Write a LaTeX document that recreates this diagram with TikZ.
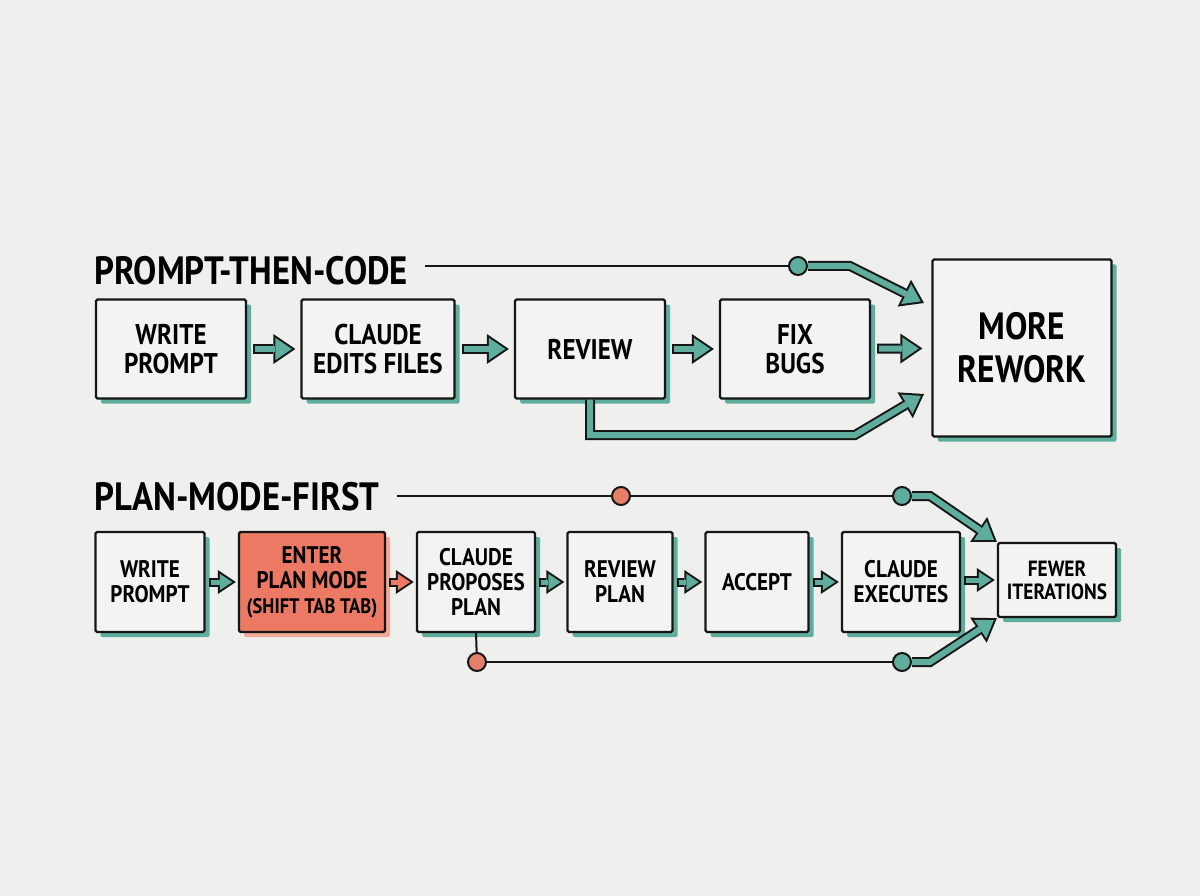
\documentclass[tikz,border=0pt]{standalone}
\usepackage{fontspec}
\setmainfont{PT Sans}[FakeStretch=0.88]
\usetikzlibrary{arrows.meta,shadows}

\definecolor{bg}{RGB}{239,239,237}
\definecolor{paper}{RGB}{243,243,241}
\definecolor{ink}{RGB}{22,22,22}
\definecolor{tealc}{RGB}{94,173,157}
\definecolor{salmon}{RGB}{236,121,99}
\definecolor{salshade}{RGB}{238,170,150}
\definecolor{dotred}{RGB}{229,127,104}

\tikzset{
  box/.style={draw=ink, line width=2.3pt, fill=paper, rounded corners=1.5pt,
    align=center, inner sep=0pt,
    drop shadow={shadow xshift=5pt, shadow yshift=-5pt, fill=#1, opacity=1}},
  box/.default=tealc,
  title/.style={font=\fontsize{39.5}{42}\selectfont\bfseries, inner sep=0pt, anchor=base west},
  big/.style={font=\fontsize{28.5}{29}\selectfont\bfseries},
  huge/.style={font=\fontsize{38}{43}\selectfont\bfseries},
  mid/.style={font=\fontsize{24}{25}\selectfont\bfseries},
  small/.style={font=\fontsize{22}{23}\selectfont\bfseries},
  dot/.style={circle, draw=ink, line width=2pt, minimum size=18pt, inner sep=0pt},
  wire/.style={draw=ink, line width=2pt},
  % fat arrows: black outline drawn first, coloured body on top
  fatout/.style={draw=ink, line width=10pt,
    -{Triangle[length=22pt,width=30pt,line width=0pt]}},
  fatin/.style={draw=#1, line width=6pt, shorten >=3.6pt,
    -{Triangle[length=16.4pt,width=22.4pt,line width=0pt]}},
  fatin/.default=tealc,
  slimout/.style={draw=ink, line width=9pt,
    -{Triangle[length=18pt,width=24pt,line width=0pt]}},
  slimin/.style={draw=#1, line width=5pt,
    -{Triangle[length=12.4pt,width=16.5pt,line width=0pt]}},
  slimin/.default=tealc,
}

\begin{document}
\begin{tikzpicture}[x=1pt,y=-1pt]
 \fill[bg] (0,0) rectangle (1200,896);

 % prompt-then-code
 \node[title] (t1) at (94,284) {PROMPT-THEN-CODE};
 \node[box,big,minimum width=150pt,minimum height=99pt] (wp1) at (171,349) {WRITE\\PROMPT};
 \node[box,big,minimum width=153pt,minimum height=99pt] (ce) at (378,349) {CLAUDE\\EDITS FILES};
 \node[box,big,minimum width=150pt,minimum height=99pt] (rv) at (590,349) {REVIEW};
 \node[box,big,minimum width=150pt,minimum height=99pt] (fb) at (795,349) {FIX\\BUGS};
 \node[box,huge,minimum width=179pt,minimum height=177pt] (mr) at (1022,348) {MORE\\REWORK};
 \node[dot,fill=tealc] (d1) at (798,266) {};

 \coordinate (k1) at (850,266);
 \coordinate (e1) at (924,303);
 \coordinate (k2) at (855,435);
 \coordinate (e2) at (924,394);

 \draw[wire,shorten <=17pt] (t1.east |- d1) -- (d1);
 \foreach \a/\b/\g/\h in {wp1/ce/5/8.6,ce/rv/5/8.6,rv/fb/5/8.6,fb/mr/9/12.6} {
   \draw[fatout,shorten <=6pt,shorten >=\g pt] (\a) -- (\b);
   \draw[fatin,shorten <=8pt,shorten >=\h pt] (\a) -- (\b);
 }
 \draw[fatout] (d1) -- (k1) -- (e1);
 \draw[fatin] (d1) -- (k1) -- (e1);
 \draw[fatout] (rv.south) -- (rv.south |- k2) -- (k2) -- (e2);
 \draw[fatin] (rv.south) -- (rv.south |- k2) -- (k2) -- (e2);

 % plan-mode-first
 \node[title] (t2) at (94,510) {PLAN-MODE-FIRST};
 \node[box,mid,minimum width=109pt,minimum height=100pt] (wp2) at (150,582) {WRITE\\PROMPT};
 \node[box=salshade,mid,fill=salmon,minimum width=146pt,minimum height=100pt] (pm) at (312,582)
   {ENTER\\PLAN MODE\\{\fontsize{21}{25}\selectfont (SHIFT TAB TAB)}};
 \node[box,mid,minimum width=118pt,minimum height=100pt] (cp) at (476,582) {CLAUDE\\PROPOSES\\PLAN};
 \node[box,mid,minimum width=105pt,minimum height=100pt] (rp) at (620,582) {REVIEW\\PLAN};
 \node[box,mid,minimum width=103pt,minimum height=100pt] (ac) at (757,582) {ACCEPT};
 \node[box,mid,minimum width=118pt,minimum height=100pt] (cx) at (901,582) {CLAUDE\\EXECUTES};
 \node[box,small,minimum width=118pt,minimum height=74pt] (fi) at (1057,580) {FEWER\\ITERATIONS};
 \node[dot,fill=dotred] (d2) at (621,496) {};
 \node[dot,fill=tealc] (d3) at (902,496) {};
 \node[dot,fill=dotred] (d4) at (477,662) {};
 \node[dot,fill=tealc] (d5) at (902,662) {};

 \coordinate (k3) at (930,496);
 \coordinate (k4) at (930,662);

 \draw[wire,shorten <=17pt] (t2.east |- d2) -- (d2);
 \draw[wire] (d2) -- (d3);
 \draw[wire] (cp.south) -- (d4);
 \draw[wire] (d4) -- (d5);
 \foreach \a/\b in {wp2/pm,cp/rp,rp/ac,ac/cx} {
   \draw[slimout,shorten <=3pt,shorten >=2pt] (\a) -- (\b);
   \draw[slimin,shorten <=5pt,shorten >=5.6pt] (\a) -- (\b);
 }
 \draw[slimout,shorten <=3pt,shorten >=2pt] (pm) -- (cp);
 \draw[slimin=salmon,shorten <=5pt,shorten >=5.6pt] (pm) -- (cp);
 \draw[slimout,shorten <=3pt,shorten >=2pt] (cx.east |- fi) -- (fi);
 \draw[slimin,shorten <=5pt,shorten >=5.6pt] (cx.east |- fi) -- (fi);
 \draw[fatout] (d3) -- (k3) -- (fi.north west);
 \draw[fatin] (d3) -- (k3) -- (fi.north west);
 \draw[fatout] (d5) -- (k4) -- (fi.south west);
 \draw[fatin] (d5) -- (k4) -- (fi.south west);
\end{tikzpicture}
\end{document}
